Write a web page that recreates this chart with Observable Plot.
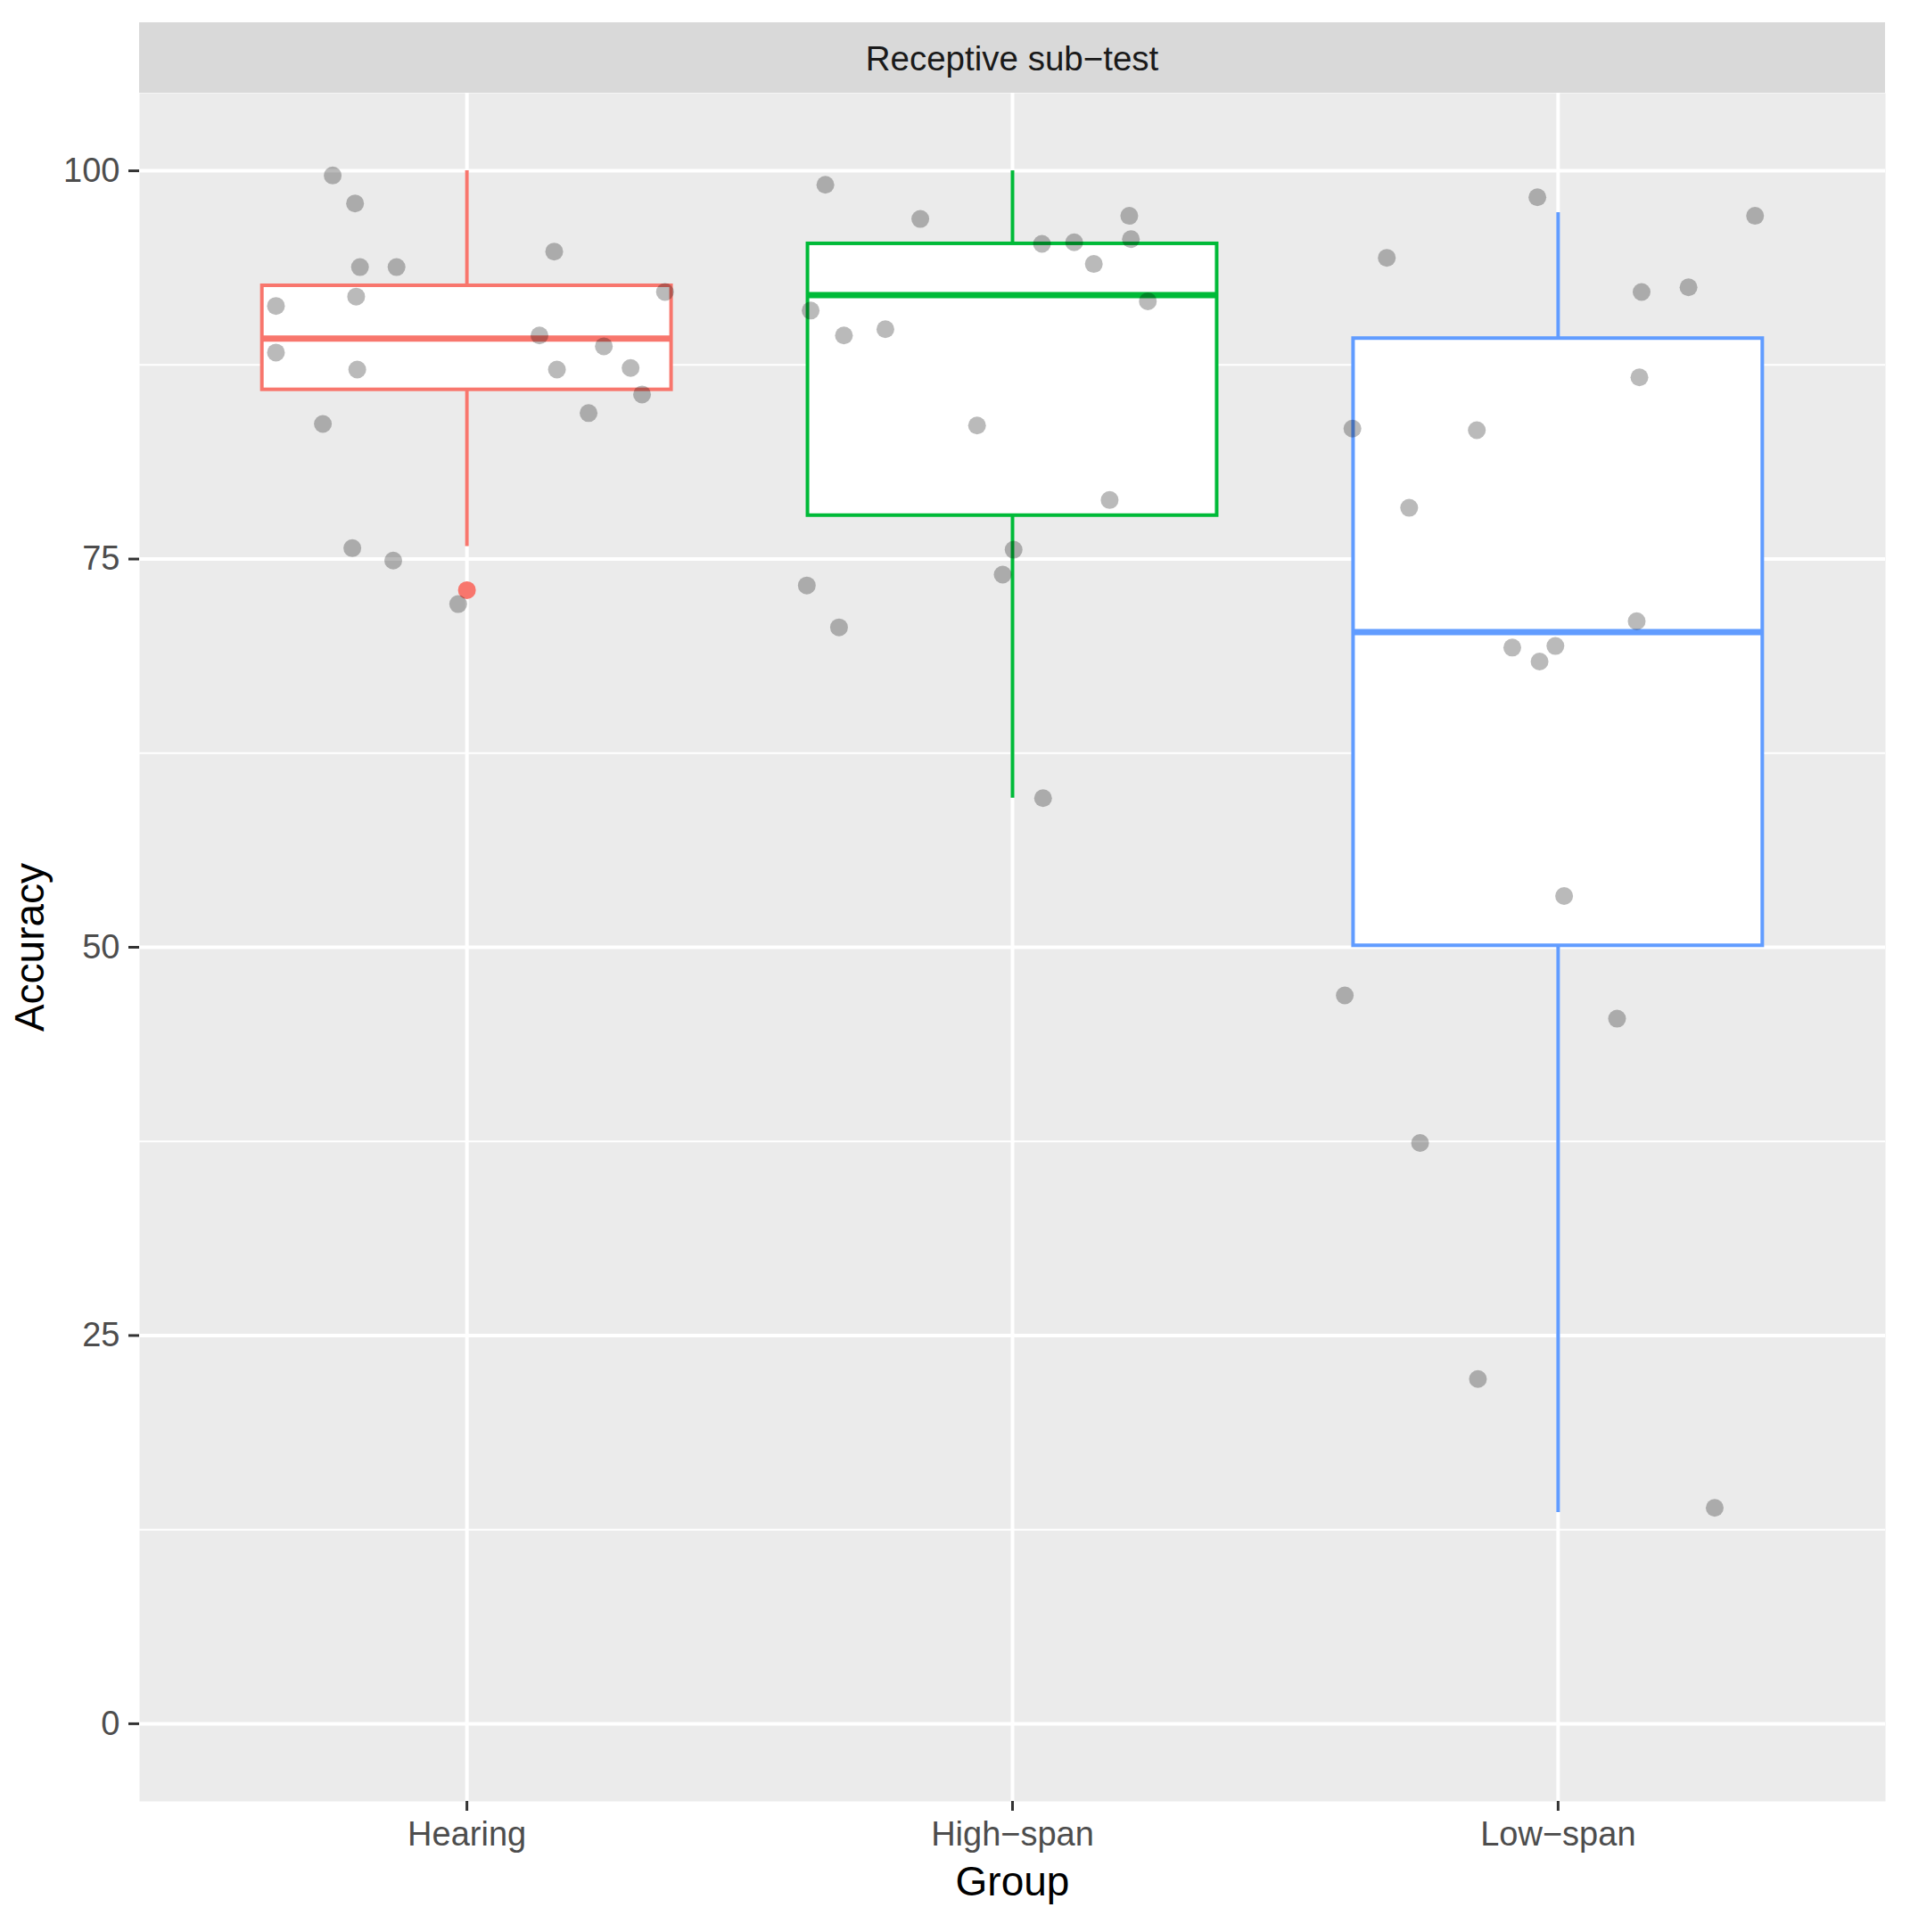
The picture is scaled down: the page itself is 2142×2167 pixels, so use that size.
<!DOCTYPE html>
<html>
<head>
<meta charset="utf-8">
<script src="https://cdn.jsdelivr.net/npm/d3@7"></script>
<script src="https://cdn.jsdelivr.net/npm/@observablehq/plot@0.6"></script>
<style>
  html, body { margin: 0; padding: 0; background: #ffffff; }
  #wrap { width: 2142px; height: 2167px; position: relative; font-family: "Liberation Sans", Arial, Helvetica, sans-serif; }
  #strip { position: absolute; left: 156px; top: 25px; width: 1958px; height: 79px; background: #D9D9D9;
           color: #1A1A1A; font-size: 38.5px; line-height: 81px; text-align: center; }
  #chart { position: absolute; left: 0; top: 104px; }
</style>
</head>
<body>
<div id="wrap">
  <div id="strip"></div>
  <div id="chart"></div>
</div>
<script>
// ---- data ----
const panelTitle = "Receptive sub−test";
const groups = ["Hearing", "High−span", "Low−span"];
const groupColors = ["#F8766D", "#00BA38", "#619CFF"];
const yTicks = [0, 25, 50, 75, 100];
const yMinor = [12.5, 37.5, 62.5, 87.5];

// boxplot statistics per group
const whiskerLow  = [75.8, 59.6, 13.6];
const q1          = [85.9, 77.8, 50.1];
const median      = [89.2, 92.0, 70.3];
const q3          = [92.6, 95.3, 89.2];
const whiskerHigh = [100.0, 100.0, 97.3];
const outlierGroup = ["Hearing"];
const outlierValue = [73.0];

// jittered observations: horizontal jitter (in group units), accuracy
const hearingJitter = [-0.246,-0.205,-0.196,-0.129,0.160,0.363,-0.350,-0.203,0.133,-0.350,-0.201,0.165,0.251,0.300,0.321,0.223,-0.264,-0.210,-0.135,-0.016];
const hearingAcc    = [99.7,97.9,93.8,93.8,94.8,92.2,91.3,91.9,89.4,88.3,87.2,87.2,88.7,87.3,85.6,84.4,83.7,75.7,74.9,72.1];
const highJitter = [-0.343,-0.169,0.214,0.054,0.113,0.217,0.149,0.248,-0.370,-0.309,-0.233,-0.065,0.178,0.002,-0.018,-0.377,-0.318,0.056];
const highAcc    = [99.1,96.9,97.1,95.3,95.4,95.6,94.0,91.6,91.0,89.4,89.8,83.6,78.8,75.6,74.0,73.3,70.6,59.6];
const lowJitter = [-0.038,0.361,-0.314,0.239,0.153,0.149,-0.377,-0.149,-0.273,0.144,-0.084,-0.005,-0.034,0.011,-0.391,0.108,-0.253,-0.147,0.287];
const lowAcc    = [98.3,97.1,94.4,92.5,92.2,86.7,83.4,83.3,78.3,71.0,69.3,69.4,68.4,53.3,46.9,45.4,37.4,22.2,13.9];

// ---- tables built from the arrays ----
const boxes = groups.map((g, i) => ({
  g, pos: i + 1, color: groupColors[i],
  lo: whiskerLow[i], q1: q1[i], med: median[i], q3: q3[i], hi: whiskerHigh[i]
}));
const outliers = outlierGroup.map((g, i) => ({
  pos: groups.indexOf(g) + 1, y: outlierValue[i], color: groupColors[groups.indexOf(g)]
}));
const jitterSets = [[hearingJitter, hearingAcc], [highJitter, highAcc], [lowJitter, lowAcc]];
const points = jitterSets.flatMap(([jx, acc], gi) => acc.map((v, k) => ({pos: gi + 1 + jx[k], y: v})));

const halfBox = 0.375;
document.getElementById("strip").textContent = panelTitle;

const chart = Plot.plot({
  width: 2142,
  height: 2063,
  marginTop: 0,
  marginBottom: 147,
  marginLeft: 156,
  marginRight: 28,
  style: {fontFamily: '"Liberation Sans", Arial, Helvetica, sans-serif', fontSize: "38px", background: "transparent", color: "#000"},
  x: {domain: [0.4, 3.6]},
  y: {domain: [-5, 105]},
  marks: [
    Plot.frame({fill: "#EBEBEB", stroke: null}),
    Plot.ruleY(yMinor, {stroke: "#ffffff", strokeWidth: 2}),
    Plot.ruleY(yTicks, {stroke: "#ffffff", strokeWidth: 4}),
    Plot.ruleX([1, 2, 3], {stroke: "#ffffff", strokeWidth: 4}),
    // whiskers
    Plot.ruleX(boxes, {x: "pos", y1: "q3", y2: "hi", stroke: "color", strokeWidth: 4}),
    Plot.ruleX(boxes, {x: "pos", y1: "lo", y2: "q1", stroke: "color", strokeWidth: 4}),
    // boxes
    Plot.rect(boxes, {x1: d => d.pos - halfBox, x2: d => d.pos + halfBox, y1: "q1", y2: "q3",
                      fill: "#ffffff", stroke: "color", strokeWidth: 4}),
    Plot.ruleY(boxes, {x1: d => d.pos - halfBox, x2: d => d.pos + halfBox, y: "med", stroke: "color", strokeWidth: 7}),
    // outliers
    Plot.dot(outliers, {x: "pos", y: "y", r: 10, fill: "color", stroke: null}),
    // jittered points
    Plot.dot(points, {x: "pos", y: "y", r: 10, fill: "#000000", fillOpacity: 0.27, stroke: null}),
    // axes
    Plot.axisY(yTicks, {tickSize: 12, tickPadding: 10, stroke: "#333333", strokeWidth: 3, fill: "#4D4D4D", label: null}),
    Plot.axisX([1, 2, 3], {tickFormat: d => groups[d - 1], tickSize: 11, tickPadding: 12,
                           stroke: "#333333", strokeWidth: 3, fill: "#4D4D4D", label: null}),
    // axis titles
    Plot.text(["Accuracy"], {frameAnchor: "left", dx: -122, rotate: -90, textAnchor: "middle", fontSize: 46, fill: "#000000", lineAnchor: "middle"}),
    Plot.text(["Group"], {frameAnchor: "bottom", dy: 91, textAnchor: "middle", fontSize: 46, fill: "#000000", lineAnchor: "middle"})
  ]
});
document.getElementById("chart").appendChild(chart);
</script>
</body>
</html>
